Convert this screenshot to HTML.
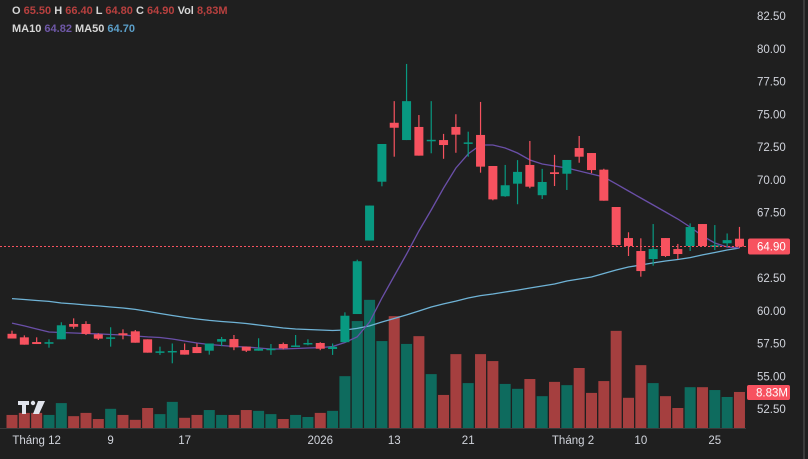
<!DOCTYPE html>
<html><head><meta charset="utf-8"><style>
html,body{margin:0;padding:0;background:#1f1f1f;}
#wrap{position:relative;width:808px;height:459px;overflow:hidden;background:#1f1f1f;font-family:"Liberation Sans",sans-serif;}
.leg{position:absolute;left:12px;font-size:11px;font-weight:bold;color:#d6d6d6;white-space:nowrap;}
.leg span.v{color:#b8403f;}
</style></head><body>
<div id="wrap">
<div class="leg" style="top:5px">O <span class="v">65.50</span> H <span class="v">66.40</span> L <span class="v">64.80</span> C <span class="v">64.90</span> Vol <span class="v">8,83M</span></div>
<div class="leg" style="top:23px">MA10 <span style="color:#6f58a8">64.82</span> MA50 <span style="color:#5b9fc9">64.70</span></div>
<svg id="chart" width="808" height="459" style="position:absolute;left:0;top:0"></svg>
</div>
<script>
const opens=[58.24,57.97,57.61,57.48,57.82,58.99,58.99,58.2,57.87,58.28,58.43,57.82,56.83,56.83,57.0,57.23,56.95,57.64,57.84,57.26,56.95,57.05,57.46,57.3,57.44,57.54,57.08,57.6,59.75,65.36,69.85,74.35,73.03,74.03,73.0,73.03,74.03,72.77,73.42,71.05,68.74,69.7,71.13,68.82,70.57,70.46,72.42,72.04,70.77,67.92,65.55,64.56,63.95,65.55,64.71,64.94,66.62,64.9,65.15,65.5];
const highs=[58.48,58.12,57.97,57.82,59.12,59.42,59.2,58.28,58.74,58.58,58.53,57.82,57.26,57.5,57.5,57.5,57.5,58.0,58.15,57.26,57.9,57.46,57.57,58.15,57.82,57.6,57.5,59.88,63.9,68.03,72.73,76.0,78.84,74.94,76.0,73.5,75.0,73.67,75.94,71.05,71.13,71.5,72.96,70.83,71.9,71.51,73.34,72.04,70.84,67.92,65.99,65.53,66.62,65.55,65.1,66.67,66.62,66.54,65.9,66.4];
const lows=[57.88,57.41,57.46,57.18,57.82,58.63,58.15,57.77,57.26,57.82,57.56,56.8,56.63,55.99,56.65,56.77,56.65,57.3,56.99,56.85,56.95,56.63,57.05,57.26,57.36,56.99,56.63,57.6,59.75,65.36,69.5,71.76,73.03,71.84,72.02,71.6,72.06,71.76,70.54,68.43,68.7,68.13,69.35,68.53,69.52,69.22,71.3,70.5,68.4,64.97,64.18,62.6,63.44,64.1,63.95,64.56,64.94,64.64,64.9,64.8];
const closes=[57.88,57.41,57.46,57.6,58.89,58.78,58.23,57.87,57.97,58.13,57.56,56.8,56.9,56.93,56.65,56.77,57.5,57.84,57.21,56.95,57.1,57.1,57.13,57.35,57.54,57.1,57.25,59.62,63.78,68.03,72.73,73.97,76.0,71.84,73.05,72.65,73.44,72.85,71.0,68.5,69.58,70.6,69.47,69.83,70.44,71.51,71.76,70.74,68.4,65.02,64.94,63.03,64.71,64.18,64.33,66.39,64.94,65.0,65.39,64.9];
const volumes=[3.2,3.7,3.7,3.2,6.1,2.9,3.7,2.2,4.7,3.2,2.0,4.9,3.4,6.4,2.5,3.2,4.4,3.2,3.2,4.4,4.2,3.4,2.2,3.2,2.7,3.7,4.2,12.7,26.2,31.4,21.3,27.4,20.6,22.5,13.2,8.1,18.1,11.0,18.1,16.4,10.8,9.6,12.0,7.8,11.3,10.5,14.7,8.6,11.5,23.8,7.4,15.4,11.0,7.8,4.9,10.0,10.0,9.3,7.6,8.83];
const ma10=[59.06,58.84,58.61,58.38,58.34,58.30,58.26,58.23,58.19,58.15,58.07,58.00,57.96,57.84,57.69,57.54,57.42,57.35,57.27,57.23,57.16,57.08,57.08,57.12,57.16,57.19,57.27,57.58,58.00,59.14,60.97,62.65,64.33,66.09,67.69,69.37,70.90,71.97,72.65,72.65,72.42,72.04,71.51,71.20,71.05,70.90,70.67,70.44,70.21,69.68,69.14,68.61,68.07,67.54,67.00,66.39,65.71,65.17,64.87,64.79];
const ma50=[60.93,60.86,60.78,60.71,60.59,60.52,60.44,60.37,60.29,60.21,60.10,59.95,59.79,59.64,59.49,59.37,59.26,59.18,59.11,59.03,58.91,58.80,58.68,58.61,58.57,58.53,58.49,58.53,58.65,58.84,59.14,59.41,59.68,59.98,60.29,60.52,60.74,60.97,61.16,61.28,61.43,61.58,61.74,61.89,62.04,62.27,62.42,62.58,62.84,63.11,63.34,63.49,63.65,63.80,63.91,64.06,64.26,64.45,64.64,64.79];
const priceTicks=[82.5,80,77.5,75,72.5,70,67.5,65,62.5,60,57.5,55,52.5];
const dateLabels=["Tháng 12","9","17","2026","13","21","Tháng 2","10","25"];
const dateIdx=[2,8,14,25,31,37,45.5,51,57];
const lastPrice=64.90;
const lastVolLabel="8.83M";

const NS="http://www.w3.org/2000/svg";
const svg=document.getElementById('chart');
const X=i=>12+i*12.33;
const Y=p=>16+(82.5-p)*13.1;
const VY=v=>428-v/0.245;
function mk(t,a){const e=document.createElementNS(NS,t);for(const k in a)e.setAttribute(k,a[k]);svg.appendChild(e);return e;}
const UP='#089981',DN='#f7525f',VUP='#0e6b5e',VDN='#a53f3f';

priceTicks.forEach(p=>{const t=mk('text',{x:757,y:Y(p)+4,fill:'#d1d4dc','font-size':'11.5','font-family':'Liberation Sans, sans-serif'});t.textContent=p.toFixed(2);

});
const rb=mk('line',{x1:804,y1:0,x2:804,y2:459,stroke:'#3a3a3a','stroke-width':2});



volumes.forEach((v,i)=>{const up=closes[i]>=opens[i];const r=mk('rect',{x:X(i)-5.5,y:VY(v),width:11,height:428-VY(v),fill:up?VUP:VDN});

});
const base=mk('line',{x1:0,y1:428.5,x2:746,y2:428.5,stroke:'#3a3a3a','stroke-width':1});



function line(arr,color,name){const d=arr.map((v,i)=>(i?'L':'M')+X(i).toFixed(1)+' '+Y(v).toFixed(1)).join(' ');
const pth=mk('path',{d:d,stroke:color,'stroke-width':1.3,fill:'none'});

}
line(ma50,'#6fb3d6','ma50-line');
line(ma10,'#6a4fa8','ma10-line');

opens.forEach((o,i)=>{const c=closes[i],up=c>=o,col=up?UP:DN;const x=X(i);
const w=mk('line',{x1:x,x2:x,y1:Y(highs[i]),y2:Y(lows[i]),stroke:col,'stroke-width':1.2});


const top=Y(Math.max(o,c)),h=Math.max(1.5,Math.abs(Y(o)-Y(c)));
const b=mk('rect',{x:x-4.5,y:top,width:9,height:h,fill:col});

});

const pl=mk('line',{x1:0,x2:748,y1:Y(lastPrice),y2:Y(lastPrice),stroke:'#f7525f','stroke-width':1,'stroke-dasharray':'2 2'});


const pb=mk('rect',{x:748,y:Y(lastPrice)-8,width:42,height:16,rx:2,fill:'#f7525f'});


const pt=mk('text',{x:757,y:Y(lastPrice)+4,fill:'#ffffff','font-size':'11.5','font-family':'Liberation Sans, sans-serif'});pt.textContent=lastPrice.toFixed(2);


const vb=mk('rect',{x:747,y:VY(volumes[59])-7,width:43,height:15,rx:2,fill:'#f7525f'});


const vt=mk('text',{x:756,y:VY(volumes[59])+4.5,fill:'#ffffff','font-size':'11.5','font-family':'Liberation Sans, sans-serif'});vt.textContent=lastVolLabel;



dateLabels.forEach((s,k)=>{const t=mk('text',{x:X(dateIdx[k]),y:444,fill:'#d1d4dc','font-size':'11.5','font-family':'Liberation Sans, sans-serif','text-anchor':'middle'});t.textContent=s;

});

const g=document.createElementNS(NS,'g');svg.appendChild(g);


g.innerHTML='<rect x="18" y="401" width="11" height="4" fill="#e0e3eb"/><rect x="22" y="401" width="4" height="13" fill="#e0e3eb"/><circle cx="33" cy="403" r="2.2" fill="#e0e3eb"/><polygon points="38,401 45,401 39,414 33,414" fill="#e0e3eb"/>';
</script>
</body></html>
